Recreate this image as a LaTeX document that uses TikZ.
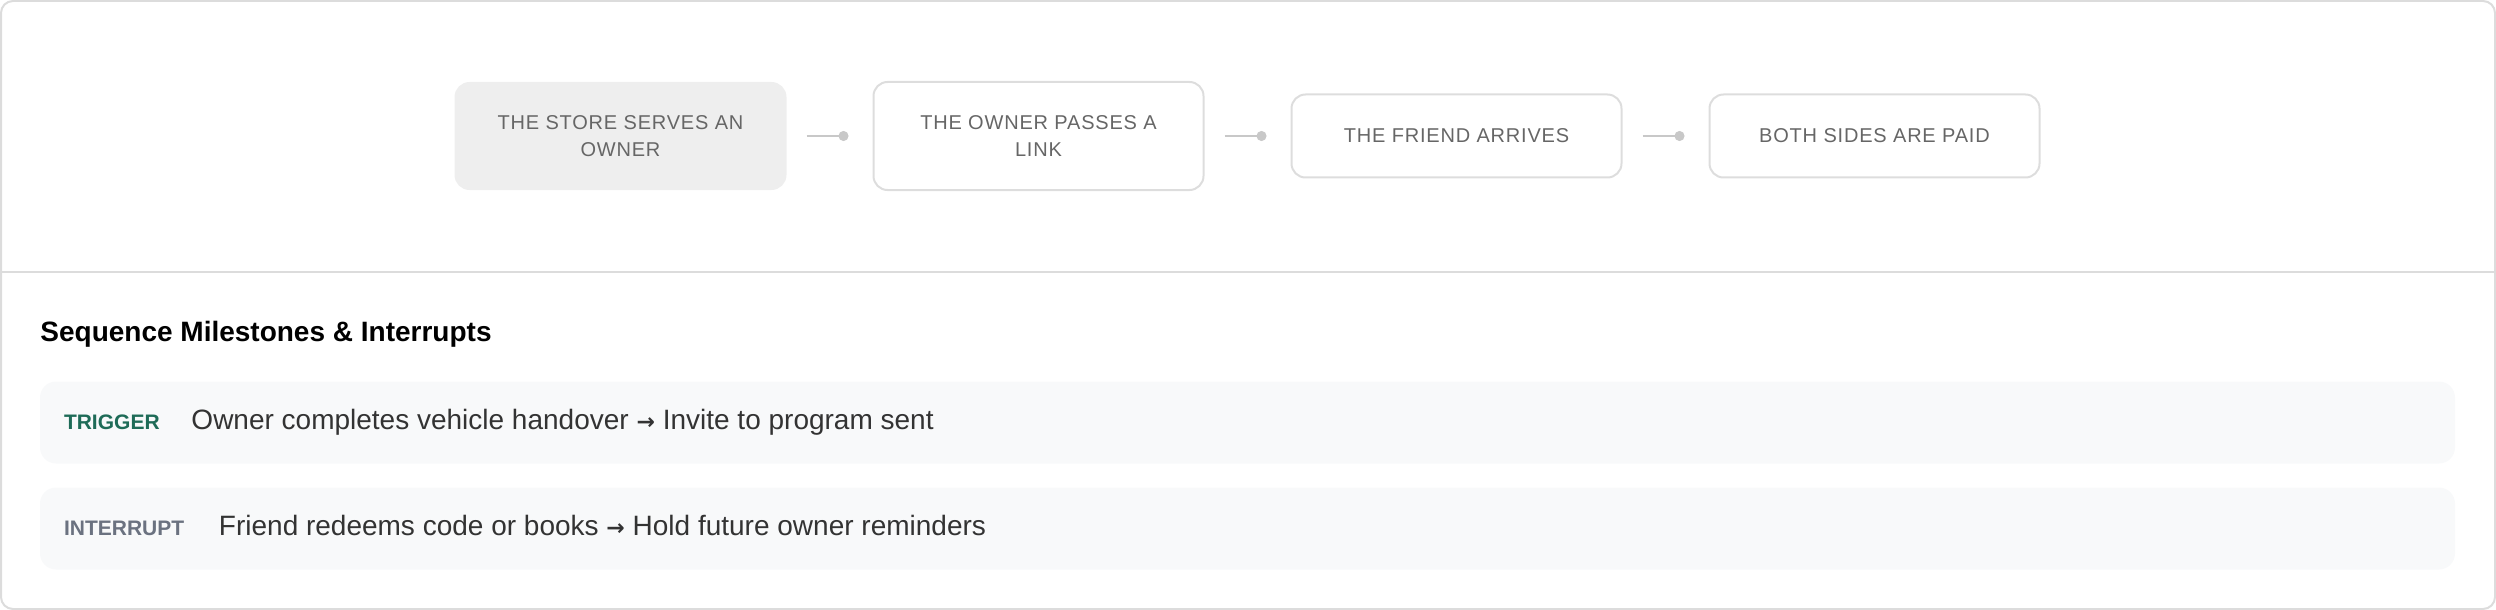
\documentclass[tikz,border=0pt]{standalone}
\usepackage{fontspec}
\setmainfont{Liberation Sans}
\newfontfamily\stagefont[LetterSpace=4]{Liberation Sans}
\newfontfamily\arrowfont{DejaVu Sans}
\usetikzlibrary{arrows.meta, positioning}

\definecolor{frameline}{HTML}{DCDCDC}
\definecolor{boxline}{HTML}{DDDDDD}
\definecolor{curfill}{HTML}{EEEEEE}
\definecolor{stagetext}{HTML}{666666}
\definecolor{linkgray}{HTML}{C8C8C8}
\definecolor{panelfill}{HTML}{F8F9FA}
\definecolor{triggreen}{HTML}{1E6B57}
\definecolor{intgray}{HTML}{6B7280}
\definecolor{itemtext}{HTML}{333333}
\newcommand{\toarrow}{{\arrowfont\bfseries\fontsize{11}{13}\selectfont →}}

\begin{document}
\begin{tikzpicture}[x=.5pt, y=-.5pt,
	stage/.style={draw=boxline, line width=1pt, rounded corners=7pt, minimum width=165pt, minimum height=54pt, align=center, text=stagetext, font=\stagefont\fontsize{10}{13.5}\selectfont},
	current/.style={stage, fill=curfill, draw=curfill, minimum height=53pt},
	short/.style={stage, minimum height=41.5pt},
	link/.style={draw=linkgray, line width=1pt, -{Circle[length=5pt]}},
	panel/.style={fill=panelfill, rounded corners=8pt, minimum width=1207.5pt, minimum height=41pt, inner sep=0pt},
	tag/.style={font=\bfseries\fontsize{10.5}{12}\selectfont, inner sep=0pt, anchor=west},
	item/.style={text=itemtext, font=\fontsize{14}{16}\selectfont, inner sep=0pt}
]
	\useasboundingbox (0,0) rectangle (2496,610);
	\draw[frameline, line width=1pt, rounded corners=6pt] (1,1) rectangle (2495,609);
	\draw[frameline, line width=1pt] (1,272) -- (2495,272);

	% stages
	\node[current] (store) at (620.5,136) {THE STORE SERVES AN\\OWNER};
	\node[stage, right=43pt of store] (owner) {THE OWNER PASSES A\\LINK};
	\node[short, right=43pt of owner] (friend) {THE FRIEND ARRIVES};
	\node[short, right=43pt of friend] (paid) {BOTH SIDES ARE PAID};
	\draw[link] ([xshift=10pt]store.east) -- ([xshift=-12pt]owner.west);
	\draw[link] ([xshift=10pt]owner.east) -- ([xshift=-12pt]friend.west);
	\draw[link] ([xshift=10pt]friend.east) -- ([xshift=-12pt]paid.west);

	% milestones
	\node[anchor=west, inner sep=0pt, text=black, font=\bfseries\fontsize{14}{17}\selectfont] (title) at (40,334) {Sequence Milestones \& Interrupts};
	\node[panel] (trigrow) at (1247.5,422.5) {};
	\node[panel] (introw) at (1247.5,528.5) {};
	\node[tag, text=triggreen] (trig) at ([xshift=12pt]trigrow.west) {TRIGGER};
	\node[tag, text=intgray] (intr) at ([xshift=12pt]introw.west) {INTERRUPT};
	\node[item, base right=15.5pt of trig] (trigtext) {Owner completes vehicle handover \toarrow{} Invite to program sent};
	\node[item, base right=17pt of intr] (inttext) {Friend redeems code or books \toarrow{} Hold future owner reminders};
\end{tikzpicture}
\end{document}
